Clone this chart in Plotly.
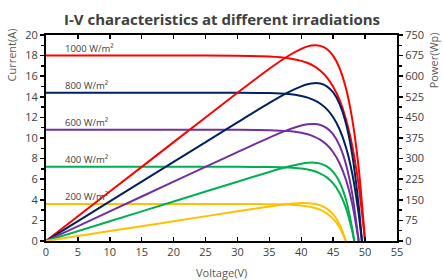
import plotly.graph_objects as go

# ---- data ----
irradiance_labels = ["1000 W/m²", "800 W/m²", "600 W/m²", "400 W/m²", "200 W/m²"]
isc_values = [18.0, 14.4, 10.8, 7.2, 3.6]

V_1000 = [0, 10, 20, 30, 35, 38, 40, 41, 42, 43, 44, 45, 46, 47, 48, 49, 50]
I_1000 = [18.0, 18.0, 18.0, 17.99, 17.92, 17.75, 17.49, 17.28, 16.97, 16.52, 15.89, 14.98, 13.69, 11.83, 9.19, 5.41, 0]
P_1000 = [0, 180, 360, 539.7, 627.2, 674.5, 699.6, 708.5, 712.7, 710.4, 699.2, 674.1, 629.7, 556.0, 441.1, 265.1, 0]

V_800 = [0, 10, 20, 30, 35, 38, 40, 41, 42, 43, 44, 45, 46, 47, 48, 49, 49.5]
I_800 = [14.4, 14.4, 14.4, 14.39, 14.36, 14.26, 14.08, 13.92, 13.68, 13.33, 12.80, 12.02, 10.85, 9.10, 6.50, 2.61, 0]
P_800 = [0, 144, 288, 431.7, 502.6, 541.9, 563.2, 570.7, 574.6, 573.2, 563.2, 540.9, 499.1, 427.7, 312.0, 127.9, 0]

V_600 = [0, 10, 20, 30, 35, 38, 40, 41, 42, 43, 44, 45, 46, 47, 48, 49]
I_600 = [10.8, 10.8, 10.8, 10.79, 10.76, 10.67, 10.51, 10.36, 10.14, 9.82, 9.34, 8.62, 7.55, 5.95, 3.56, 0]
P_600 = [0, 108, 216, 323.7, 376.6, 405.5, 420.4, 424.8, 425.9, 422.3, 411.0, 387.9, 347.3, 279.7, 170.9, 0]

V_400 = [0, 10, 20, 30, 35, 38, 40, 41, 42, 43, 44, 45, 46, 47, 48, 48.3]
I_400 = [7.2, 7.2, 7.2, 7.2, 7.18, 7.13, 7.03, 6.94, 6.79, 6.55, 6.18, 5.59, 4.67, 3.21, 0.91, 0]
P_400 = [0, 72, 144, 216, 251.4, 270.9, 281.2, 284.5, 285.2, 281.7, 271.9, 251.6, 214.8, 150.9, 43.7, 0]

V_200 = [0, 10, 20, 30, 35, 38, 39, 40, 41, 42, 43, 44, 45, 46, 47]
I_200 = [3.6, 3.6, 3.6, 3.6, 3.58, 3.54, 3.50, 3.45, 3.36, 3.23, 3.02, 2.68, 2.15, 1.32, 0]
P_200 = [0, 36, 72, 108, 125.3, 134.5, 136.5, 138.0, 137.8, 135.7, 129.9, 117.9, 96.8, 60.7, 0]

x_ticks = [0, 5, 10, 15, 20, 25, 30, 35, 40, 45, 50, 55]
current_ticks = [0, 2, 4, 6, 8, 10, 12, 14, 16, 18, 20]
power_ticks = [0, 75, 150, 225, 300, 375, 450, 525, 600, 675, 750]

colors = ["#FF0000", "#002060", "#7030A0", "#00B050", "#FFC000"]
series = [(V_1000, I_1000, P_1000), (V_800, I_800, P_800), (V_600, I_600, P_600),
          (V_400, I_400, P_400), (V_200, I_200, P_200)]

FONT = "Open Sans"
GRAY = "#404040"

fig = go.Figure()
for (v, i, p), c in zip(series, colors):
    fig.add_trace(go.Scatter(x=v, y=i, mode="lines", line=dict(color=c, width=2, shape="spline", smoothing=0.6),
                             xaxis="x", yaxis="y", showlegend=False, hoverinfo="skip"))
    fig.add_trace(go.Scatter(x=v, y=p, mode="lines", line=dict(color=c, width=2, shape="spline", smoothing=0.6),
                             xaxis="x", yaxis="y2", showlegend=False, hoverinfo="skip"))

annotations = []
for lab, isc in zip(irradiance_labels, isc_values):
    annotations.append(dict(x=2.6, y=isc, xref="x", yref="y", text=lab, showarrow=False,
                            xanchor="left", yanchor="bottom", yshift=-1,
                            font=dict(family=FONT, size=9.5, color=GRAY)))

annotations += [
    dict(x=-0.097, y=0.905, xref="paper", yref="paper", text="Current(A)", textangle=-90,
         showarrow=False, xanchor="center", yanchor="middle", font=dict(family=FONT, size=11, color="#595959")),
    dict(x=1.103, y=0.878, xref="paper", yref="paper", text="Power(Wp)", textangle=-90,
         showarrow=False, xanchor="center", yanchor="middle", font=dict(family=FONT, size=11, color="#595959")),
    dict(x=0.5, y=-0.155, xref="paper", yref="paper", text="Voltage(V)",
         showarrow=False, xanchor="center", yanchor="middle", font=dict(family=FONT, size=11, color="#595959")),
    dict(x=0.5, y=1.08, xref="paper", yref="paper", text="<b>I-V characteristics at different irradiations</b>",
         showarrow=False, xanchor="center", yanchor="middle", font=dict(family=FONT, size=15, color=GRAY)),
]

tickfont = dict(family=FONT, size=11, color="#404040")

fig.update_layout(
    width=443, height=280,
    margin=dict(l=46, r=46, t=35, b=39),
    paper_bgcolor="white", plot_bgcolor="white",
    annotations=annotations,
    xaxis=dict(range=[0, 55], tickvals=x_ticks, ticks="inside", ticklen=4, tickwidth=1.5, tickcolor="black",
               showline=True, linecolor="black", linewidth=2, mirror="ticks", showgrid=False, zeroline=False,
               tickfont=tickfont, fixedrange=True),
    yaxis=dict(range=[0, 20], tickvals=current_ticks, ticks="outside", ticklen=4, tickwidth=1.5, tickcolor="black",
               minor=dict(dtick=1, ticks="outside", ticklen=3, tickcolor="black", tickwidth=1.5),
               showline=True, linecolor="black", linewidth=2, showgrid=False, zeroline=False,
               tickfont=tickfont, fixedrange=True),
    yaxis2=dict(range=[0, 750], tickvals=power_ticks, overlaying="y", side="right", ticks="outside", ticklen=4,
                tickwidth=1.5, tickcolor="black",
                minor=dict(dtick=37.5, ticks="outside", ticklen=3, tickcolor="black", tickwidth=1.5),
                showline=True, linecolor="black", linewidth=2, showgrid=False, zeroline=False,
                tickfont=tickfont, fixedrange=True),
)

fig.write_html("out.html", config={"displayModeBar": False, "staticPlot": True},
               post_script="document.body.style.margin='0';document.body.style.overflow='hidden';")
